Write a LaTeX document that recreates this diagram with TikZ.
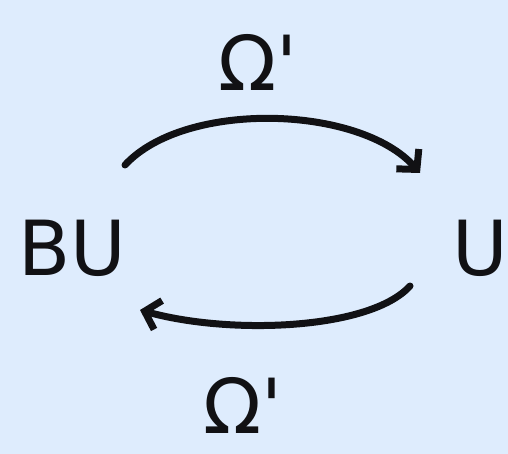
\documentclass[tikz,border=0pt]{standalone}
\usepackage{fontspec}
\setmainfont{DejaVu Sans}
\usetikzlibrary{arrows.meta}
\definecolor{bgblue}{RGB}{222,236,253}
\definecolor{ink}{RGB}{17,17,20}
\begin{document}
\begin{tikzpicture}[x=1pt,y=-1pt,
  lbl/.style={text=ink,font=\fontsize{76}{76}\selectfont,inner sep=0pt},
  arr/.style={draw=ink,line width=7pt,line cap=round,line join=round,
    -{Straight Barb[length=14pt,width=30pt,line width=7pt]}}]
\fill[bgblue] (0,0) rectangle (508,454);
\useasboundingbox (0,0) rectangle (508,454);
\node[lbl] (BU) at (72,248) {BU};
\node[lbl] (U) at (480,248) {U};
\node[lbl] (t) at (258,62) {Ω\textquotesingle};
\node[lbl,text depth=0pt,anchor=base] (b) at (243,433) {Ω\textquotesingle};
\coordinate (s1) at ([shift={(53,-83)}]BU.center);
\coordinate (e1) at ([shift={(-60,-75)}]U.center);
\coordinate (s2) at ([shift={(-70,38)}]U.center);
\coordinate (e2) at ([shift={(68,62)}]BU.center);
\draw[arr] (s1) .. controls (185,100) and (360,105) .. (e1);
\draw[arr] (s2) .. controls (370,330) and (230,335) .. (e2);
\end{tikzpicture}
\end{document}
